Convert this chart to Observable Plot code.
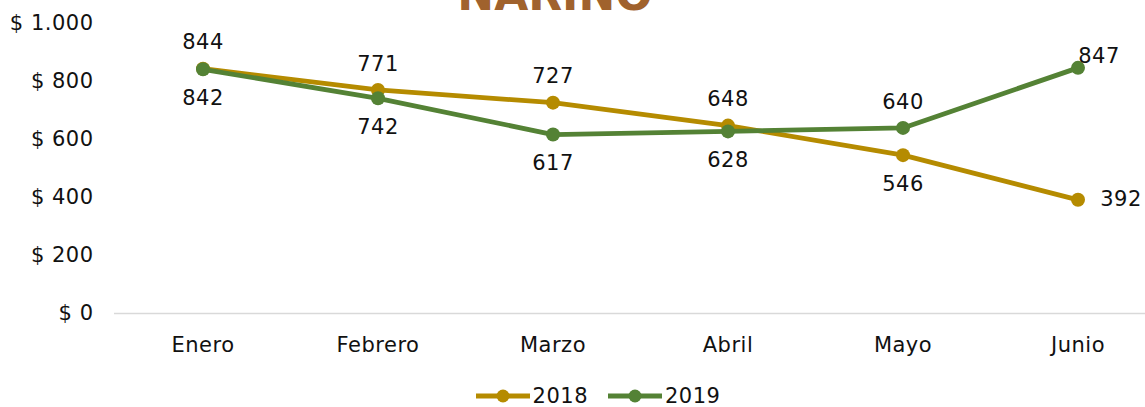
<!DOCTYPE html>
<html><head><meta charset="utf-8">
<script src="https://cdn.jsdelivr.net/npm/d3@7"></script>
<script src="https://cdn.jsdelivr.net/npm/@observablehq/plot@0.6"></script>
<style>
html,body{margin:0;padding:0;background:#fff;overflow:hidden;width:1145px;height:407px;}
#wrap{position:relative;width:1145px;height:407px;font-family:"DejaVu Sans",sans-serif;overflow:hidden;}
#chart svg{max-width:none !important;}
#chart svg text{letter-spacing:0.5px;}
#title{position:absolute;left:0;width:1110px;text-align:center;top:-27px;font-size:44px;font-weight:bold;color:#A0622D;line-height:44px;}
#legend{position:absolute;top:384px;left:0;width:1196px;display:flex;justify-content:center;gap:20px;font-size:21px;color:#111;letter-spacing:0.5px;}
#legend .it{display:flex;align-items:center;gap:3px;}
</style></head>
<body><div id="wrap"><div id="title">NARIÑO</div><div id="chart"></div><div id="legend"></div></div>
<script>
const months = ["Enero","Febrero","Marzo","Abril","Mayo","Junio"];
const series = ["2018","2019"];
const values2018 = [844,771,727,648,546,392];
const values2019 = [842,742,617,628,640,847];
const yTicks = [0,200,400,600,800,1000];
const colors = ["#B58B00","#548235"];

const rows = [];
months.forEach((m,i)=>{
  rows.push({month:m, year:"2018", value:values2018[i], idx:i});
  rows.push({month:m, year:"2019", value:values2019[i], idx:i});
});
// label placement (Excel-like): t = above, b = below, r = right, tr = above-right
const place = {"2018":["t","t","t","t","b","r"], "2019":["b","b","b","b","t","tr"]};
const off = {t:[0,-26], b:[0,29], r:[43,-1], tr:[21,-12]};
rows.forEach(d=>{const p=place[d.year][d.idx]; d.dx=off[p][0]; d.dy=off[p][1];});

const fmt = v => "$ " + d3.format(",")(v).replace(/,/g,".");
const plot = Plot.plot({
  width: 1196, height: 370,
  marginLeft: 114, marginRight: 30, marginTop: 23, marginBottom: 57,
  style:{fontFamily:"DejaVu Sans, sans-serif", fontSize:"21px", color:"#111", background:"transparent", overflow:"visible", maxWidth:"none"},
  x:{type:"band", domain:months, padding:0, label:null},
  y:{domain:[0,1000], ticks:yTicks, tickFormat:fmt, label:null},
  color:{domain:series, range:colors},
  marks:[
    Plot.ruleY([0],{stroke:"#d9d9d9", strokeWidth:1.5}),
    Plot.axisY({ticks:yTicks, tickFormat:fmt, tickSize:0, tickPadding:21, label:null, fontSize:21}),
    Plot.axisX({tickSize:0, tickPadding:24, label:null, fontSize:21}),
    Plot.line(rows,{x:"month", y:"value", z:"year", stroke:"year", strokeWidth:4.8, curve:"linear"}),
    Plot.dot(rows,{x:"month", y:"value", fill:"year", r:7}),
    ...series.map(s=>Plot.text(rows.filter(d=>d.year===s),{x:"month", y:"value", text:d=>String(d.value), fill:"#111", fontSize:21,
      render:(i,sc,v,dim,ctx,next)=>{const g=next(i,sc,v,dim,ctx); const data=rows.filter(d=>d.year===s);
        d3.select(g).selectAll("text").each(function(_,k){const d=data[i[k]]; this.setAttribute("transform",(this.getAttribute("transform")||"")+` translate(${d.dx},${d.dy})`);}); return g;}}))
  ]
});
document.getElementById("chart").appendChild(plot);

const lg = document.getElementById("legend");
series.forEach((s,k)=>{
  const it=document.createElement("div"); it.className="it";
  it.innerHTML=`<svg width="54" height="14"><line x1="0" x2="54" y1="7" y2="7" stroke="${colors[k]}" stroke-width="4.8"/><circle cx="27" cy="7" r="6.5" fill="${colors[k]}"/></svg><span>${s}</span>`;
  lg.appendChild(it);
});
</script></body></html>
